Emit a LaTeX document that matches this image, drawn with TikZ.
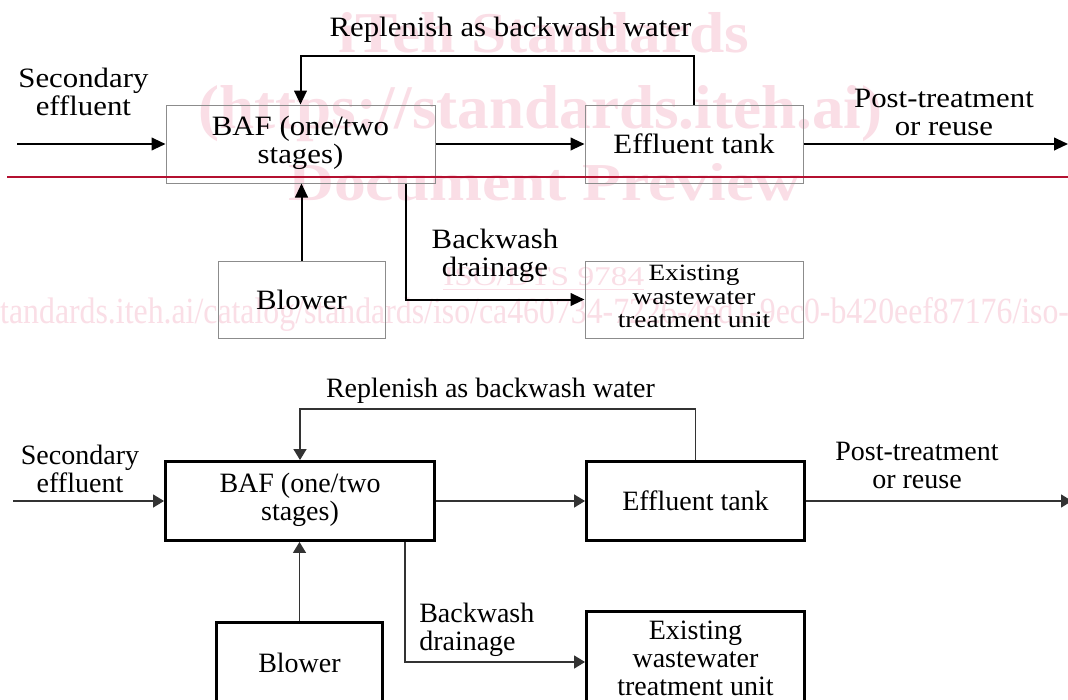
\documentclass[tikz,border=0pt]{standalone}
\usepackage{fontspec}
\setmainfont{Liberation Serif}
\usetikzlibrary{arrows.meta}
\definecolor{wmpink}{RGB}{250,222,230}
\definecolor{redline}{RGB}{180,16,48}
\newcommand{\mainfs}{\fontsize{21pt}{21pt}\selectfont}
\newcommand{\smallfs}{\fontsize{17.5pt}{17.6pt}\selectfont}
\newcommand{\TopT}[1]{\scalebox{1.1}[1]{\begin{tabular}{@{}c@{}}#1\end{tabular}}}
\newcommand{\TopS}[1]{\scalebox{1.17}[1]{\begin{tabular}{@{}c@{}}#1\end{tabular}}}
\newcommand{\BotT}[1]{\begin{tabular}{@{}c@{}}#1\end{tabular}}
\newcommand{\BotL}[1]{\begin{tabular}{@{}l@{}}#1\end{tabular}}
\begin{document}
\begin{tikzpicture}[x=0.75pt,y=-0.75pt,
  wm/.style={text=wmpink, inner sep=0pt, anchor=base west},
  lbl/.style={inner sep=0pt, font=\mainfs},
  tbox/.style={draw=black!45, line width=0.75pt, inner sep=0pt, font=\mainfs},
  bbox/.style={draw=black, line width=2.2pt, inner sep=0pt, font=\mainfs},
  tline/.style={line width=1.5pt, draw=black, -{Triangle[length=10.5pt,width=9.5pt]}},
  bline/.style={line width=1.1pt, draw=black!80, -{Triangle[length=8.25pt,width=9.75pt]}}
]
\useasboundingbox (0,0) rectangle (1068,700);
\clip (0,0) rectangle (1068,700);
\fill[white] (0,0) rectangle (1068,700);

% ---------- watermark ----------
\node[wm] (w1) at (338,52) {\resizebox{308.25pt}{30pt}{\bfseries iTeh Standards}};
\node[wm] (w2) at (198,128) {\resizebox{513pt}{32.25pt}{\bfseries (https://standards.iteh.ai)}};
\node[wm] (w3) at (288,200) {\resizebox{384pt}{27.75pt}{\bfseries Document Preview}};
\node[wm] (w4) at (443,285) {\resizebox{150.75pt}{13.5pt}{\underline{ISO/DTS 9784}}};
\node[wm] (w5) at (-12.4,323) {\resizebox{810.75pt}{19.5pt}{standards.iteh.ai/catalog/standards/iso/ca460734-7226-4ed1-9ec0-b420eef87176/iso-}};

% ---------- top diagram ----------
\node[tbox, minimum width=201.75pt, minimum height=58.5pt] (tbaf) at (300.5,144) {\raisebox{-2pt}{\TopT{BAF (one/two\\stages)}}};
\node[tbox, minimum width=163.5pt, minimum height=58.5pt] (teff) at (694,144) {\scalebox{1.1}[1]{Effluent tank}};
\node[tbox, minimum width=125.25pt, minimum height=57.75pt] (tblow) at (301.5,299.5) {\scalebox{1.1}[1]{Blower}};
\node[tbox, minimum width=163.5pt, minimum height=57.75pt, font=\smallfs] (texist) at (694,299.5) {\TopS{Existing\\wastewater\\treatment unit}};

\node[lbl, anchor=base] (trep) at (510.5,36) {\scalebox{1.1}[1]{Replenish as backwash water}};
\node[lbl] (tsec) at (83.4,96) {\TopT{Secondary\\effluent}};
\node[lbl] (tpost) at (944,116) {\TopT{Post-treatment\\or reuse}};
\node[lbl] (tbw) at (495,257) {\TopT{Backwash\\drainage}};

\coordinate (tin) at (17,144);
\coordinate (tout) at (1068,144);
\coordinate (tdr) at (406,183.5);
\draw[tline] (tin) -- (tbaf.west);
\draw[tline] (tbaf.east) -- (teff.west);
\draw[tline] (teff.east) -- (tout);
\draw[tline] (teff.north) -- ++(0,-49) -| (tbaf.north);
\draw[tline] (tblow.north) -- (tblow.north |- tbaf.south);
\draw[tline] (tdr) |- (texist.west);

\coordinate (rl1) at (7,177);
\coordinate (rl2) at (1068,177);
\draw[redline, line width=1.5pt] (rl1) -- (rl2);

% ---------- bottom diagram ----------
\node[bbox, minimum width=201.75pt, minimum height=59.25pt] (bbaf) at (300,501) {\BotT{BAF (one/two\\stages)}};
\node[bbox, minimum width=163.5pt, minimum height=59.25pt] (beff) at (695.5,501) {Effluent tank};
\node[bbox, minimum width=124.5pt, minimum height=60.75pt] (bblow) at (299.5,663) {Blower};
\node[bbox, minimum width=163.5pt, minimum height=75.75pt] (bexist) at (695.5,662) {\BotT{Existing\\wastewater\\treatment unit}};

\node[lbl, anchor=base] (brep) at (490.5,397) {Replenish as backwash water};
\node[lbl] (bsec) at (80,472.7) {\BotT{Secondary\\effluent}};
\node[lbl] (bpost) at (917,469) {\BotT{Post-treatment\\or reuse}};
\node[lbl, anchor=west] (bbw) at (419,630.4) {\BotL{Backwash\\drainage}};

\coordinate (bin) at (13,501);
\coordinate (bout) at (1072,501);
\coordinate (bdr) at (405,542);
\draw[bline] (bin) -- (bbaf.west);
\draw[bline] (bbaf.east) -- (beff.west);
\draw[bline] (beff.east) -- (bout);
\draw[bline] (beff.north) -- ++(0,-51) -| (bbaf.north);
\draw[bline] (bblow.north) -- (bblow.north |- bbaf.south);
\draw[bline] (bdr) |- (bexist.west);
\end{tikzpicture}
\end{document}
